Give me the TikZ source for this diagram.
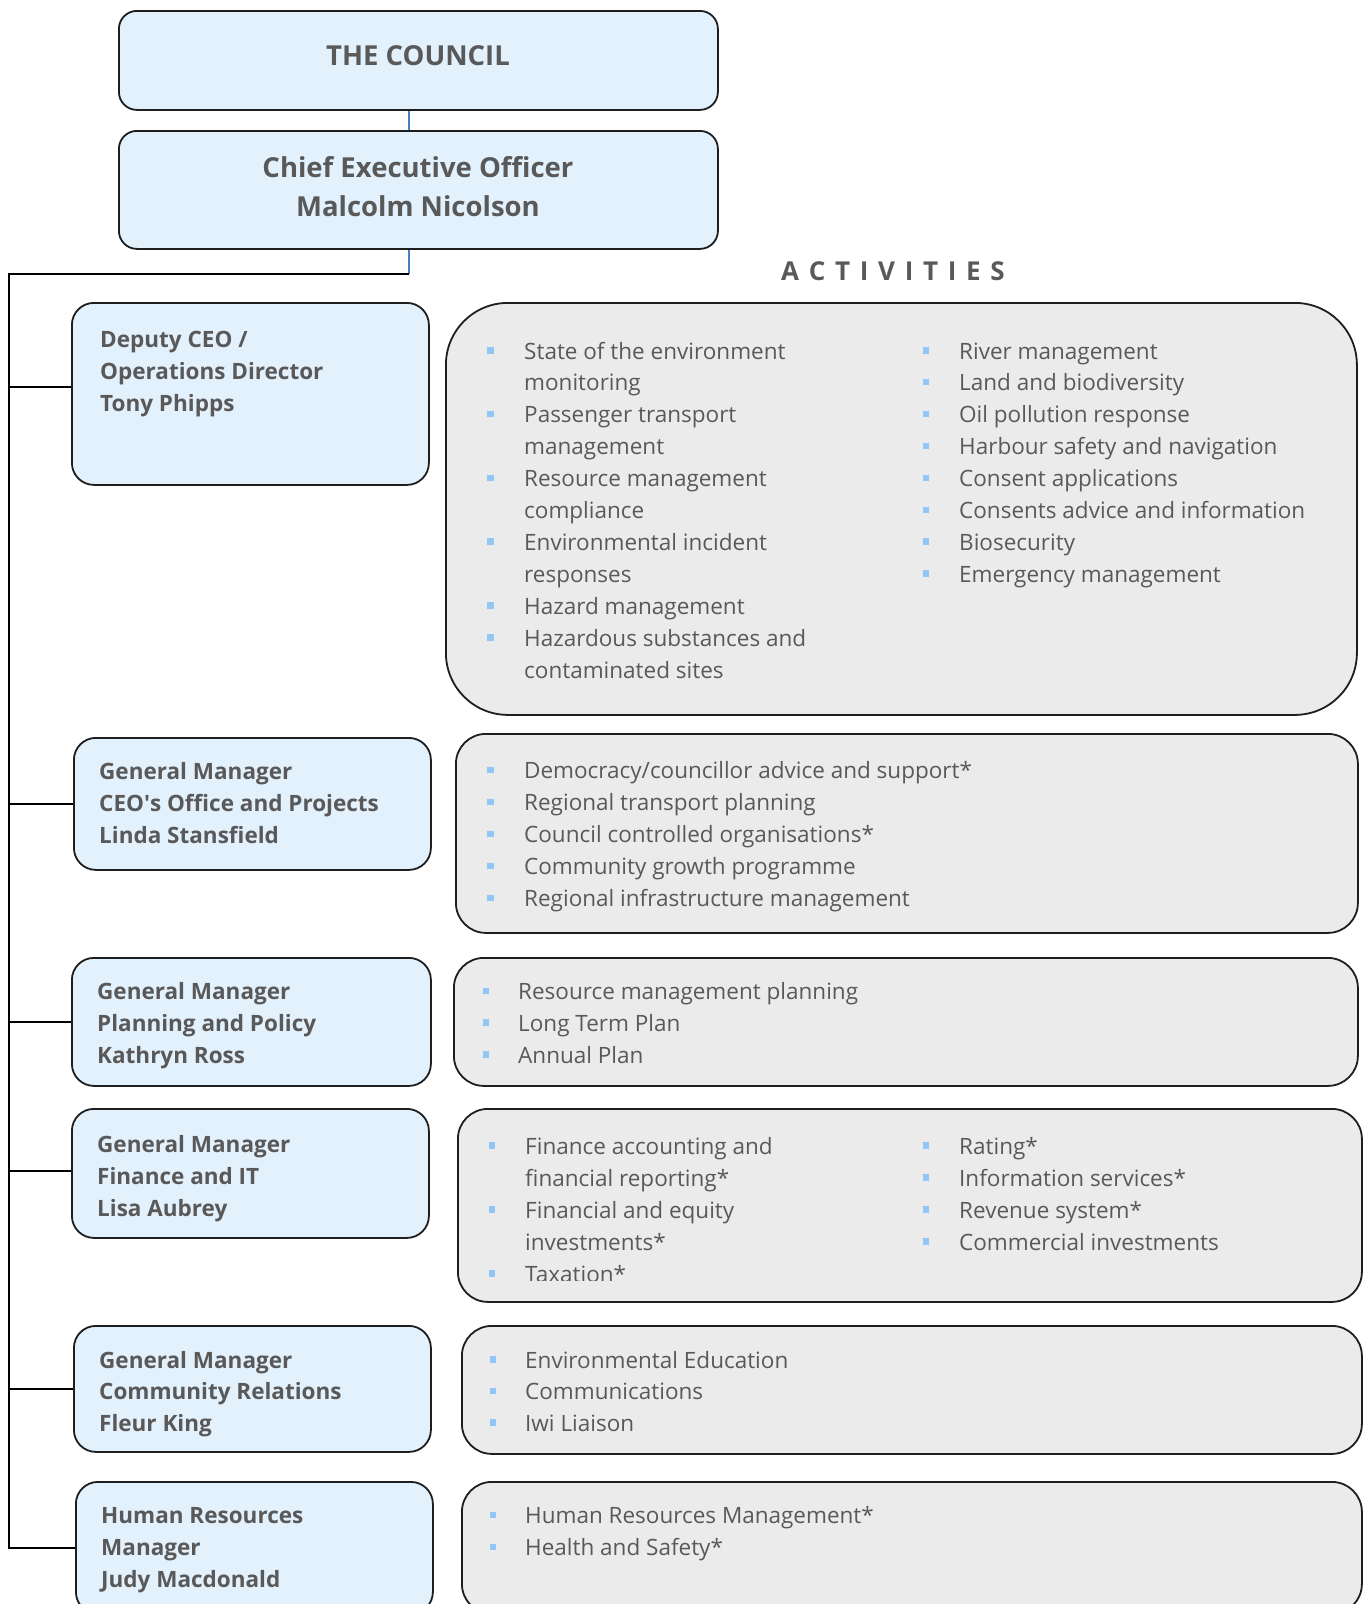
\documentclass[tikz,border=0pt]{standalone}
\usepackage{fontspec}
\setmainfont{Open Sans}
\definecolor{txt}{HTML}{595959}
\definecolor{lblue}{HTML}{E3F1FD}
\definecolor{lgray}{HTML}{EBEBEB}
\definecolor{bul}{HTML}{91C6F6}
\definecolor{conn}{HTML}{4A7EBB}
\definecolor{edge}{HTML}{1E1E1E}
\newcommand\txtlines[6]{%
  \foreach \t [count=\i from 0] in {#6}{%
    \pgfmathsetmacro\yy{#3+\i*#4}%
    \node[#5] (#1-\i) at (#2,\yy) {\t};}}
\newcommand\buls[6]{%
  \foreach \f/\t [count=\i from 0] in {#6}{%
    \pgfmathsetmacro\yy{#4+\i*#5}%
    \node[acttext] (#1-\i) at (#3,\yy) {\t};
    \if\f b\fill[bul] (#2-3.2,\yy-12) rectangle (#2+3.2,\yy-5.5);\fi}}
\begin{document}
\begin{tikzpicture}[x=1pt,y=-1pt,
  mgr/.style={draw=edge, line width=1.8pt, fill=lblue, rounded corners=22pt, inner sep=0pt, anchor=north west},
  act/.style={draw=edge, line width=1.8pt, fill=lgray, rounded corners=30pt, inner sep=0pt, anchor=north west},
  top/.style={draw=edge, line width=1.8pt, fill=lblue, rounded corners=18pt, inner sep=0pt, anchor=north west},
  acttext/.style={anchor=base west, inner sep=0pt, text=txt, font=\fontsize{22.5}{27}\selectfont},
  mgrtext/.style={anchor=base west, inner sep=0pt, text=txt, font=\bfseries\fontsize{22.5}{27}\selectfont},
  toptext/.style={anchor=base, inner sep=0pt, text=txt, font=\bfseries\fontsize{27.5}{33}\selectfont},
  trunk/.style={draw=black, line width=2pt},
  blueline/.style={draw=conn, line width=1.3pt}]
\useasboundingbox (0,0) rectangle (1364,1604);
\clip (0,0) rectangle (1364,1604);
% top boxes
\node[top, minimum width=599pt, minimum height=99pt] (council) at (118,10) {};
\node[top, minimum width=599pt, minimum height=118pt] (ceo) at (118,130) {};
\node[toptext] (councilT) at (418,65) {THE COUNCIL};
\node[toptext] (ceoT1) at (418,177) {Chief Executive Officer};
\node[toptext] (ceoT2) at (418,216.5) {Malcolm Nicolson};
% connectors
\coordinate (cx) at (409,0);
\coordinate (tk) at (9,274);
\draw[blueline] (council.south -| cx) -- (ceo.north -| cx);
\draw[blueline] (ceo.south -| cx) -- (cx |- tk);
% manager boxes
\node[mgr, minimum width=357pt, minimum height=182pt] (m1) at (71,302) {};
\node[mgr, minimum width=357pt, minimum height=132pt] (m2) at (73,737) {};
\node[mgr, minimum width=359pt, minimum height=128pt] (m3) at (71,957) {};
\node[mgr, minimum width=357pt, minimum height=129pt] (m4) at (71,1108) {};
\node[mgr, minimum width=357pt, minimum height=126pt] (m5) at (73,1325) {};
\node[mgr, minimum width=357pt, minimum height=132pt] (m6) at (75,1481) {};
\coordinate (m1c) at ([yshift=7pt]m1.west);
\coordinate (m4c) at ([yshift=2.5pt]m4.west);
\draw[trunk] (cx |- tk) -- (tk) -- (tk |- m6.west) -- (m6.west);
\draw[trunk] (tk |- m1c) -- (m1c);
\draw[trunk] (tk |- m2.west) -- (m2.west);
\draw[trunk] (tk |- m3.west) -- (m3.west);
\draw[trunk] (tk |- m4c) -- (m4c);
\draw[trunk] (tk |- m5.west) -- (m5.west);
% activity boxes
\node[act, minimum width=911pt, minimum height=412pt, rounded corners=62pt] (r1) at (445,302) {};
\node[act, minimum width=902pt, minimum height=199pt] (r2) at (455,733) {};
\node[act, minimum width=904pt, minimum height=128pt] (r3) at (453,957) {};
\node[act, minimum width=904pt, minimum height=193pt] (r4) at (457,1108) {};
\node[act, minimum width=900pt, minimum height=128pt] (r5) at (461,1325) {};
\node[act, minimum width=900pt, minimum height=132pt] (r6) at (461,1481) {};
% title
\node[anchor=base, inner sep=0pt, text=txt, font=\bfseries\fontsize{26}{30}\selectfont] (acttitle) at (893,280)
  {A\kern9.7pt C\kern9.7pt T\kern9.7pt I\kern9.7pt V\kern9.7pt I\kern9.7pt T\kern9.7pt I\kern9.7pt E\kern9.7pt S};
% manager texts
\txtlines{m1t}{100}{347.5}{32.2}{mgrtext}{Deputy CEO /,Operations Director,Tony Phipps}
\txtlines{m2t}{99}{779.5}{32.2}{mgrtext}{General Manager,CEO\textquotesingle s Office and Projects,Linda Stansfield}
\txtlines{m3t}{97}{999.5}{32.2}{mgrtext}{General Manager,Planning and Policy,Kathryn Ross}
\txtlines{m4t}{97}{1152}{32}{mgrtext}{General Manager,Finance and IT,Lisa Aubrey}
\txtlines{m5t}{99}{1368}{31.7}{mgrtext}{General Manager,Community Relations,Fleur King}
\txtlines{m6t}{101}{1523.5}{32.2}{mgrtext}{Human Resources,Manager,Judy Macdonald}
% activity texts
\buls{r1a}{490.5}{524}{359}{31.9}{b/State of the environment,n/monitoring,b/Passenger transport,n/management,b/Resource management,n/compliance,b/Environmental incident,n/responses,b/Hazard management,b/Hazardous substances and,n/contaminated sites}
\buls{r1b}{926}{959}{359}{31.9}{b/River management,b/Land and biodiversity,b/Oil pollution response,b/Harbour safety and navigation,b/Consent applications,b/Consents advice and information,b/Biosecurity,b/Emergency management}
\buls{r2a}{490.5}{524}{778.5}{32}{b/{Democracy/councillor advice and support*},b/Regional transport planning,b/Council controlled organisations*,b/Community growth programme,b/Regional infrastructure management}
\buls{r3a}{486}{518}{999.5}{31.8}{b/Resource management planning,b/Long Term Plan,b/Annual Plan}
\buls{r4a}{492}{525}{1154}{32}{b/Finance accounting and,n/financial reporting*,b/Financial and equity,n/investments*}
\begin{scope}
\clip (0,0) rectangle (1364,1280);
\buls{r4c}{492}{525}{1282}{32}{b/Taxation*}
\end{scope}
\buls{r4b}{926}{959}{1154}{32}{b/Rating*,b/Information services*,b/Revenue system*,b/Commercial investments}
\buls{r5a}{493}{525}{1368}{31.7}{b/Environmental Education,b/Communications,b/Iwi Liaison}
\buls{r6a}{493}{525}{1523.5}{32.2}{b/Human Resources Management*,b/Health and Safety*}
\end{tikzpicture}
\end{document}
